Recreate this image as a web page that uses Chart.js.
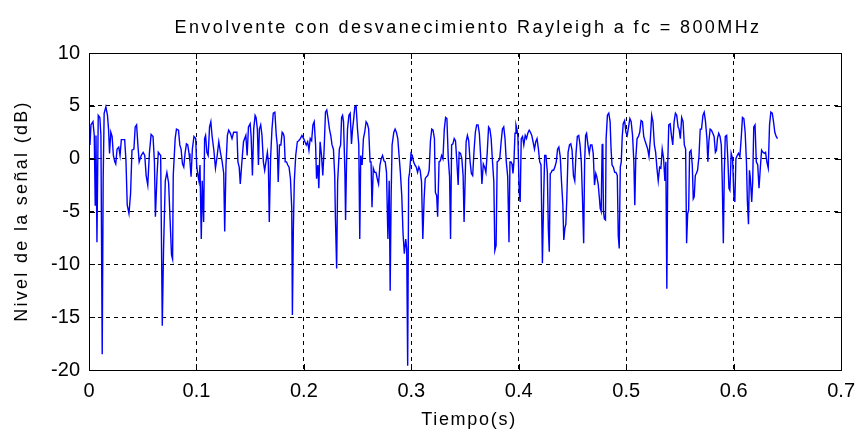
<!DOCTYPE html>
<html>
<head>
<meta charset="utf-8">
<script src="https://cdn.jsdelivr.net/npm/chart.js@4.4.1/dist/chart.umd.min.js"></script>
<style>
  html, body { margin: 0; padding: 0; background: #ffffff; }
  #wrap { width: 864px; height: 435px; }
</style>
</head>
<body>
<div id="wrap"><canvas id="c" width="864" height="435"></canvas></div>
<script>
// ---- Data ----
const chartTitle = 'Envolvente con desvanecimiento Rayleigh a fc = 800MHz';
const xAxisTitle = 'Tiempo(s)';
const yAxisTitle = 'Nivel de la señal (dB)';
const xTickValues = [0, 0.1, 0.2, 0.3, 0.4, 0.5, 0.6, 0.7];
const xTickLabels = ['0', '0.1', '0.2', '0.3', '0.4', '0.5', '0.6', '0.7'];
const yTickValues = [-20, -15, -10, -5, 0, 5, 10];
const yTickLabels = ['-20', '-15', '-10', '-5', '0', '5', '10'];

// time (s)
const tiempo = [
0.0009,0.0018,0.0037,0.0049,0.0058,0.0065,0.0074,0.0086,0.0101,0.0111,
0.0123,0.0132,0.0141,0.0157,0.0172,0.0182,0.0191,0.0203,0.0215,0.0227,
0.0240,0.0249,0.0261,0.0277,0.0289,0.0301,0.0332,0.0344,0.0356,0.0372,
0.0387,0.0400,0.0418,0.0430,0.0443,0.0455,0.0467,0.0486,0.0504,0.0519,
0.0532,0.0547,0.0562,0.0578,0.0596,0.0609,0.0618,0.0633,0.0645,0.0667,
0.0682,0.0694,0.0710,0.0725,0.0741,0.0768,0.0778,
0.0784,0.0802,0.0814,0.0833,0.0845,0.0857,0.0870,0.0882,0.0894,0.0907,
0.0919,0.0931,0.0940,0.0950,0.0962,0.0977,0.0993,0.1002,0.1011,0.1023,
0.1033,0.1045,0.1054,0.1067,0.1076,0.1085,0.1097,0.1109,0.1122,0.1134,
0.1146,0.1162,0.1177,0.1192,0.1208,0.1223,0.1238,0.1254,0.1263,0.1275,
0.1288,0.1300,0.1316,0.1331,0.1346,0.1377,0.1386,0.1398,0.1408,0.1423,
0.1438,0.1460,0.1472,0.1484,0.1500,0.1509,0.1521,0.1533,0.1546,
0.1555,0.1567,0.1577,0.1586,0.1598,0.1610,0.1623,0.1635,0.1647,0.1660,
0.1669,0.1678,0.1690,0.1703,0.1715,0.1730,0.1743,0.1752,0.1761,0.1773,
0.1786,0.1798,0.1807,0.1816,0.1826,0.1838,0.1850,0.1862,0.1875,0.1887,
0.1893,0.1902,0.1911,0.1924,0.1939,0.1952,0.1967,0.1982,0.1998,0.2010,
0.2022,0.2035,0.2047,0.2059,0.2072,0.2084,0.2096,0.2109,0.2118,0.2130,
0.2139,0.2151,0.2164,0.2176,0.2188,0.2201,0.2213,0.2225,0.2238,0.2250,
0.2262,0.2275,0.2287,0.2293,0.2305,0.2314,0.2330,0.2342,0.2351,
0.2360,0.2369,0.2382,0.2388,0.2397,0.2406,0.2419,0.2431,0.2443,0.2453,
0.2462,0.2474,0.2486,0.2499,0.2511,0.2520,0.2529,0.2542,0.2554,0.2566,
0.2579,0.2591,0.2603,0.2616,0.2625,0.2634,0.2646,0.2659,0.2671,0.2683,
0.2695,0.2708,0.2720,0.2732,0.2745,0.2757,0.2769,0.2782,0.2794,0.2803,
0.2812,0.2821,0.2837,0.2849,0.2861,0.2874,0.2886,0.2898,0.2911,0.2923,
0.2935,0.2948,0.2957,0.2966,0.2975,0.2984,0.2997,0.3009,0.3021,0.3033,
0.3046,0.3058,0.3070,0.3082,0.3095,0.3107,0.3119,
0.3129,0.3141,0.3153,0.3166,0.3178,0.3190,0.3202,0.3215,0.3224,0.3236,
0.3245,0.3258,0.3270,0.3282,0.3294,0.3307,0.3319,0.3331,0.3344,0.3356,
0.3365,0.3375,0.3387,0.3399,0.3411,0.3424,0.3436,0.3445,0.3458,0.3470,
0.3482,0.3491,0.3501,0.3510,0.3522,0.3534,0.3547,0.3559,0.3571,0.3584,
0.3596,0.3608,0.3621,0.3633,0.3645,0.3657,0.3670,0.3682,0.3694,0.3706,
0.3719,0.3731,0.3743,0.3755,0.3768,0.3777,0.3789,0.3799,0.3811,0.3823,
0.3836,0.3848,0.3860,0.3872,0.3884,0.3897,0.3909,0.3918,
0.3928,0.3937,0.3946,0.3955,0.3965,0.3974,0.3983,0.3992,0.4004,0.4013,
0.4023,0.4035,0.4047,0.4060,0.4072,0.4084,0.4097,0.4109,0.4121,0.4133,
0.4146,0.4158,0.4170,0.4183,0.4195,0.4207,0.4220,0.4232,0.4241,0.4253,
0.4266,0.4275,0.4284,0.4293,0.4303,0.4312,0.4324,0.4336,0.4349,0.4361,
0.4373,0.4386,0.4398,0.4410,0.4419,0.4429,0.4438,0.4447,0.4459,0.4472,
0.4484,0.4496,0.4509,0.4521,0.4533,0.4545,0.4558,0.4570,0.4582,0.4594,
0.4604,0.4613,0.4622,0.4631,0.4644,0.4656,0.4668,0.4681,0.4693,0.4705,
0.4717,0.4726,0.4739,0.4751,0.4758,0.4767,0.4776,0.4782,0.4788,0.4797,
0.4807,0.4813,0.4825,0.4838,0.4850,0.4859,0.4868,0.4880,0.4893,0.4905,
0.4917,0.4926,0.4935,0.4945,0.4954,0.4963,0.4972,0.4985,0.4997,0.5009,
0.5022,0.5034,0.5046,0.5059,0.5071,0.5080,0.5089,0.5101,0.5114,0.5126,
0.5138,0.5151,0.5163,0.5175,0.5188,0.5200,0.5212,0.5225,0.5237,0.5249,
0.5262,0.5274,0.5286,0.5298,0.5311,0.5323,0.5335,0.5348,0.5360,0.5369,
0.5378,0.5387,0.5396,0.5409,0.5421,0.5433,0.5446,0.5458,0.5470,0.5483,
0.5492,0.5504,0.5516,0.5529,0.5541,0.5553,0.5562,0.5572,0.5581,0.5590,
0.5603,0.5615,0.5624,0.5633,0.5643,0.5652,0.5664,0.5677,0.5689,0.5701,
0.5714,0.5726,0.5738,0.5751,0.5760,0.5769,0.5781,0.5793,0.5806,0.5818,
0.5830,0.5840,0.5849,0.5861,0.5873,0.5885,0.5894,0.5904,0.5913,0.5922,
0.5935,0.5947,0.5956,0.5965,0.5977,0.5990,0.6002,0.6011,0.6021,0.6033,
0.6045,0.6058,0.6070,0.6082,0.6095,0.6107,0.6119,0.6128,0.6138,0.6147,
0.6156,0.6168,0.6177,0.6187,0.6199,0.6211,0.6224,0.6236,0.6248,0.6260,
0.6273,0.6285,0.6297,0.6309,0.6322,0.6334,0.6346,0.6359,0.6371,0.6383,
0.6396,0.6408
];

// signal level (dB)
const nivel = [
1.3,3.2,3.5,2.2,-4.4,2.2,-7.9,4.1,3.9,2.2,
-18.5,-1.9,4.3,4.9,4.1,2.8,0.5,2.5,2.1,0.3,
-0.3,-0.5,0.9,1.1,0.3,1.8,1.8,-0.2,-4.4,-5.2,
-3.3,0.8,0.9,3.0,3.2,1.3,-0.3,0.3,0.6,0.3,
-1.6,-2.5,0.5,2.3,2.1,-0.3,-5.5,-1.6,0.6,0.3,
-15.8,-8.5,-2.1,-1.3,-2.3,-9.1,-9.5,
-1.6,1.9,2.8,2.7,1.3,0.9,-0.5,-0.8,0.5,1.4,
1.3,0.5,-0.3,-1.7,0.9,2.1,1.9,-0.6,-1.4,-2.1,
-0.6,-7.6,-2.1,-6.0,1.9,2.2,0.6,0.3,3.0,3.5,
2.1,0.8,-0.9,0.2,1.6,0.6,-0.2,-1.4,-6.9,-0.6,
2.2,2.7,2.4,1.9,2.5,2.5,-0.3,-0.8,-2.4,-0.3,
1.6,2.2,0.3,3.0,3.3,2.1,-1.6,2.8,4.1,
3.9,2.8,-0.6,2.8,3.2,2.2,-0.3,-1.1,-0.3,0.6,
-0.3,-6.0,0.0,2.8,4.3,4.4,2.2,1.3,-2.2,1.3,
1.3,2.5,2.4,2.1,-0.3,-0.3,-0.6,-0.8,-1.9,-4.7,
-14.8,-6.6,-2.1,0.3,1.6,1.7,1.9,2.2,1.9,1.6,
1.3,1.6,0.8,1.9,1.7,3.2,3.5,1.3,-1.9,-0.6,
-2.8,1.6,0.3,-1.6,0.8,4.4,4.6,3.8,2.8,2.2,
1.3,0.9,-1.6,-5.4,-10.4,-2.2,0.9,1.3,3.9,
4.1,3.5,-1.4,-5.8,-0.3,2.8,4.1,4.3,1.4,2.8,
3.6,4.9,5.0,2.8,1.3,-7.6,0.3,-0.6,1.9,2.5,
3.5,3.3,2.8,-0.3,-0.3,-4.6,-0.9,-1.3,-1.3,-1.9,
-2.4,-0.6,0.0,0.3,-0.2,-0.3,-1.3,-7.6,-2.1,-12.5,
-3.5,1.3,2.5,2.8,2.5,1.9,0.3,-1.3,-3.5,-7.1,
-9.0,-7.6,-8.5,-19.6,-1.9,-1.3,0.5,0.3,-0.3,-0.6,
-0.8,-1.3,-0.8,-1.1,-2.2,-7.6,-3.8,
-1.9,-1.7,-1.6,-1.1,1.7,2.8,2.7,1.9,-3.2,-3.5,
-5.5,-0.3,-0.2,0.3,0.0,2.8,3.9,3.8,0.0,-1.7,
-7.6,1.3,1.4,1.9,1.7,-0.3,-2.5,0.6,0.5,0.0,
-1.6,-6.0,-1.9,1.6,2.2,1.7,-0.3,-1.4,-1.6,0.8,
2.5,3.2,3.2,2.4,0.3,-2.4,-0.5,-0.8,-1.3,0.5,
3.0,2.8,1.9,-0.2,-2.2,-8.7,-8.2,-0.3,-0.2,0.0,
1.6,2.8,3.0,1.9,-0.3,-1.7,-7.9,-0.3,
-0.3,-0.5,-1.4,-0.3,2.4,3.2,2.8,2.1,-3.2,-4.1,
1.9,2.1,1.3,2.2,1.9,2.4,2.7,2.5,2.2,1.6,
0.9,1.6,1.9,0.9,-0.3,-0.6,-9.9,-3.5,0.3,0.3,
-1.3,-6.6,-8.8,-1.4,-1.3,-1.1,-1.1,-0.8,-0.3,0.9,
1.1,0.2,-2.2,-4.3,-7.7,-6.6,-6.2,-3.8,0.6,1.3,
1.4,0.8,-1.6,-2.1,0.5,2.1,2.2,1.3,-0.3,-4.1,
-8.0,-0.3,2.2,2.4,1.3,0.5,1.3,1.3,0.5,-2.5,
-1.4,-1.7,-2.4,-3.8,-4.7,-5.0,1.3,1.4,-5.0,-5.7,
-5.8,1.9,4.1,4.3,3.5,0.9,-0.6,-0.8,-1.3,-1.3,
-1.6,-7.3,-8.5,-0.8,-0.3,2.1,3.3,3.6,2.5,2.2,
3.0,3.8,3.5,2.2,-0.3,-4.4,0.0,1.9,2.1,2.5,
3.6,3.5,2.1,1.7,1.3,0.9,0.2,1.9,4.1,3.5,
1.3,0.6,-0.9,-2.1,-0.8,-0.9,0.9,0.0,-2.1,-0.3,
-12.3,-0.3,3.2,3.3,2.2,1.3,3.5,4.3,4.1,3.0,
2.8,1.9,3.9,3.5,1.3,0.9,-8.0,-5.2,-4.9,0.6,
0.8,-0.6,-3.8,-3.6,-1.6,-1.4,-1.1,0.2,2.8,2.8,
4.1,4.4,3.5,1.9,-0.3,1.6,2.8,2.7,2.4,2.1,
0.6,0.8,1.9,2.4,2.1,1.3,-2.2,-8.0,-1.3,2.1,
2.2,-0.3,-2.8,-3.0,0.5,0.0,-3.5,-4.1,0.0,0.3,
0.5,0.2,1.9,3.9,3.8,2.5,-0.3,-4.1,-6.2,-1.1,
-1.9,-4.1,-2.2,3.0,3.2,-0.3,-0.6,-2.8,-0.9,0.8,
0.6,0.5,0.6,-0.3,-0.9,3.2,4.4,4.3,3.5,2.5,
2.1,1.9
];

const points = tiempo.map((t, i) => ({ x: t, y: nivel[i] }));

// ---- Frame, inner tick marks and texts (MATLAB look) ----
const matlabFrame = {
  id: 'matlabFrame',
  afterDraw(chart) {
    const { ctx, chartArea: a, scales } = chart;
    const xs = scales.x, ys = scales.y;
    ctx.save();
    ctx.setLineDash([]);
    ctx.strokeStyle = '#000000';
    ctx.lineWidth = 1;
    // inner ticks
    ctx.beginPath();
    xTickValues.forEach(v => {
      const px = Math.round(xs.getPixelForValue(v)) + 0.5;
      ctx.moveTo(px, a.bottom); ctx.lineTo(px, a.bottom - 6);
      ctx.moveTo(px, a.top); ctx.lineTo(px, a.top + 6);
    });
    yTickValues.forEach(v => {
      const py = Math.round(ys.getPixelForValue(v)) + 0.5;
      ctx.moveTo(a.left, py); ctx.lineTo(a.left + 6, py);
      ctx.moveTo(a.right, py); ctx.lineTo(a.right - 6, py);
    });
    ctx.stroke();
    // box
    ctx.strokeRect(Math.round(a.left) + 0.5, Math.round(a.top) + 0.5,
                   Math.round(a.right - a.left), Math.round(a.bottom - a.top));
    // texts
    ctx.fillStyle = '#000000';
    ctx.font = '18px "Liberation Sans", Arial, sans-serif';
    ctx.textAlign = 'center';
    ctx.textBaseline = 'alphabetic';
    ctx.letterSpacing = '2.4px';
    ctx.fillText(chartTitle, 468, 33);
    ctx.letterSpacing = '1.7px';
    ctx.fillText(xAxisTitle, 469, 425);
    ctx.translate(27, 211);
    ctx.rotate(-Math.PI / 2);
    ctx.letterSpacing = '2.3px';
    ctx.fillText(yAxisTitle, 0, 0);
    ctx.restore();
  }
};

new Chart(document.getElementById('c'), {
  type: 'line',
  data: {
    datasets: [{
      data: points,
      borderColor: '#0000ff',
      borderWidth: 1.4,
      pointRadius: 0,
      tension: 0,
      fill: false
    }]
  },
  options: {
    responsive: false,
    animation: false,
    devicePixelRatio: 1,
    layout: { padding: { left: 0, right: 16, top: 53, bottom: 0 } },
    plugins: {
      legend: { display: false },
      tooltip: { enabled: false },
      title: { display: false }
    },
    scales: {
      x: {
        type: 'linear',
        min: 0,
        max: 0.7,
        afterFit(scale) { scale.height = 65; },
        afterBuildTicks(scale) { scale.ticks = xTickValues.map(v => ({ value: v })); },
        ticks: {
          color: '#000000',
          padding: 9,
          maxRotation: 0,
          font: { family: '"Liberation Sans", Arial, sans-serif', size: 20 },
          callback: (v) => xTickLabels[xTickValues.findIndex(t => Math.abs(t - v) < 1e-9)]
        },
        grid: { color: '#000000', lineWidth: 1, drawTicks: false, borderDash: [4, 4] },
        border: { display: true, color: '#000000', dash: [4, 4] }
      },
      y: {
        type: 'linear',
        min: -20,
        max: 10,
        afterFit(scale) { scale.width = 89; },
        afterBuildTicks(scale) { scale.ticks = yTickValues.map(v => ({ value: v })); },
        ticks: {
          color: '#000000',
          padding: 9,
          font: { family: '"Liberation Sans", Arial, sans-serif', size: 20 },
          callback: (v) => yTickLabels[yTickValues.indexOf(v)]
        },
        grid: { color: '#000000', lineWidth: 1, drawTicks: false, borderDash: [4, 4] },
        border: { display: true, color: '#000000', dash: [4, 4] }
      }
    }
  },
  plugins: [matlabFrame]
});
</script>
</body>
</html>
